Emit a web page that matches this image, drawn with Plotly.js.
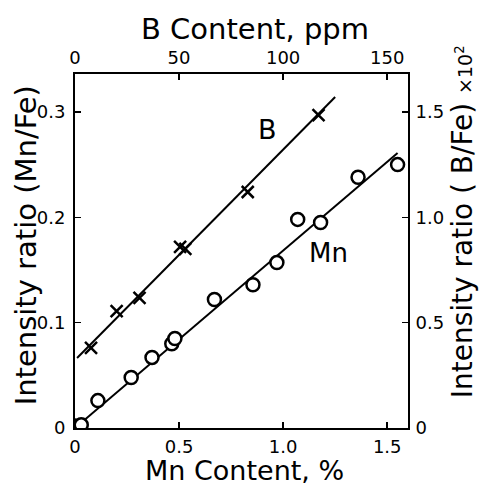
<!DOCTYPE html>
<html>
<head>
<meta charset="utf-8">
<script src="https://cdn.plot.ly/plotly-3.0.1.min.js"></script>
<style>html,body{margin:0;padding:0;background:#fff;}</style>
</head>
<body>
<div id="chart" style="width:479px;height:486px;"></div>
<script>
// Mn series (bottom axis: Mn Content %, left axis: Intensity ratio Mn/Fe)
const mnX = [0, 0.03, 0.11, 0.27, 0.37, 0.465, 0.48, 0.67, 0.855, 0.97, 1.07, 1.18, 1.36, 1.55];
const mnY = [0.002, 0.003, 0.026, 0.048, 0.067, 0.080, 0.085, 0.122, 0.136, 0.157, 0.198, 0.195, 0.238, 0.250];
const mnLineX = [0, 1.55];
const mnLineY = [0, 0.261];

// B series (top axis: B Content ppm, right axis: Intensity ratio B/Fe x10^2)
const bX = [7.7, 20, 31, 50.5, 53, 83, 117];
const bY = [0.38, 0.555, 0.618, 0.86, 0.85, 1.12, 1.485];
const bLineX = [1, 125];
const bLineY = [0.332, 1.571];

// Tick labels
const mnTickVals = [0, 0.5, 1.0, 1.5];
const mnTickText = ['0', '0.5', '1.0', '1.5'];
const bTickVals = [0, 50, 100, 150];
const bTickText = ['0', '50', '100', '150'];
const leftTickVals = [0, 0.1, 0.2, 0.3];
const leftTickText = ['0', '0.1', '0.2', '0.3'];
const rightTickVals = [0, 0.5, 1.0, 1.5];
const rightTickText = ['0', '0.5', '1.0', '1.5'];

const FONT = 'DejaVu Sans, Arial, sans-serif';
const axisBase = {
  showline: true, linecolor: '#000', linewidth: 2,
  ticks: 'inside', ticklen: 6, tickwidth: 1.5, tickcolor: '#000',
  showgrid: false, zeroline: false,
  tickfont: {family: FONT, size: 18, color: '#000'},
  fixedrange: true
};

const traces = [
  {x: mnLineX, y: mnLineY, mode: 'lines', line: {color: '#000', width: 2}, xaxis: 'x', yaxis: 'y', hoverinfo: 'skip'},
  {x: bLineX, y: bLineY, mode: 'lines', line: {color: '#000', width: 2}, xaxis: 'x2', yaxis: 'y2', hoverinfo: 'skip'},
  {x: mnX, y: mnY, mode: 'markers', xaxis: 'x', yaxis: 'y',
   marker: {symbol: 'circle', size: 13, color: '#fff', line: {color: '#000', width: 2.5}}},
  {x: bX, y: bY, mode: 'markers', xaxis: 'x2', yaxis: 'y2',
   marker: {symbol: 'x-thin', size: 12, color: '#000', line: {color: '#000', width: 2.5}}}
];

const layout = {
  width: 479, height: 486,
  margin: {l: 75, r: 71, t: 74, b: 58},
  paper_bgcolor: '#fff', plot_bgcolor: '#fff',
  showlegend: false,
  font: {family: FONT, color: '#000'},
  xaxis: Object.assign({}, axisBase, {range: [0, 1.6], tickvals: mnTickVals, ticktext: mnTickText, ticklabelstandoff: 1}),
  xaxis2: Object.assign({}, axisBase, {range: [0, 160], tickvals: bTickVals, ticktext: bTickText, overlaying: 'x', side: 'top', ticklabelstandoff: 1}),
  yaxis: Object.assign({}, axisBase, {range: [0, 0.336], tickvals: leftTickVals, ticktext: leftTickText, ticklabelstandoff: 4}),
  yaxis2: Object.assign({}, axisBase, {range: [0, 1.68], tickvals: rightTickVals, ticktext: rightTickText, overlaying: 'y', side: 'right', ticklabelstandoff: 2}),
  annotations: [
    {text: 'Mn Content, %', xref: 'paper', yref: 'paper', x: 0.51, y: -0.121, showarrow: false,
     font: {family: FONT, size: 27}, xanchor: 'center', yanchor: 'middle'},
    {text: 'B Content, ppm', xref: 'paper', yref: 'paper', x: 0.54, y: 1.126, showarrow: false,
     font: {family: FONT, size: 29}, xanchor: 'center', yanchor: 'middle'},
    {text: 'Intensity ratio (Mn/Fe)', xref: 'paper', yref: 'paper', x: -0.146, y: 0.517, showarrow: false,
     textangle: -90, font: {family: FONT, size: 29}, xanchor: 'center', yanchor: 'middle'},
    {text: 'Intensity ratio ( B/Fe) <span style="font-size:19px">×10<sup>2</sup></span>', xref: 'paper', yref: 'paper', x: 1.166, y: 0.582, showarrow: false,
     textangle: -90, font: {family: FONT, size: 28}, xanchor: 'center', yanchor: 'middle'},
    {text: 'B', xref: 'x', yref: 'y', x: 0.923, y: 0.283, showarrow: false, font: {family: FONT, size: 27}},
    {text: 'Mn', xref: 'x', yref: 'y', x: 1.216, y: 0.166, showarrow: false, font: {family: FONT, size: 26}}
  ]
};

Plotly.newPlot('chart', traces, layout, {displayModeBar: false, staticPlot: true});
</script>
</body>
</html>
